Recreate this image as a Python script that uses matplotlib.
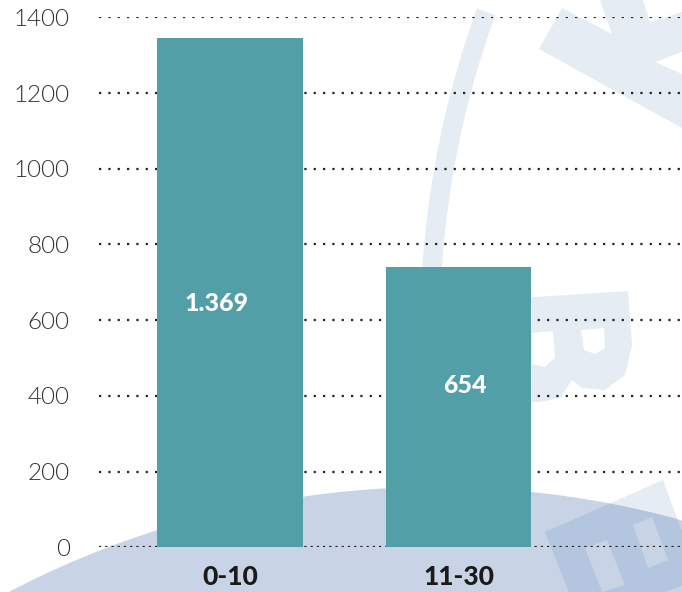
import numpy as np
import matplotlib.pyplot as plt
from matplotlib.patches import Circle, Arc, Polygon

# data
categories = ["0-10", "11-30"]
bar_heights = [1345, 741]
bar_labels = ["1.369", "654"]
label_y = [645, 428]
label_dx = [-0.06, 0.03]
y_ticks = [0, 200, 400, 600, 800, 1000, 1200, 1400]

W, H = 682, 592
LIGHT = "#e5ecf3"
MID = "#c8d4e6"
DARK = "#b3c5df"

fig = plt.figure(figsize=(W / 100, H / 100), dpi=100)

# background watermark, drawn in pixel coordinates
bg = fig.add_axes([0, 0, 1, 1], zorder=0)
bg.set_xlim(0, W)
bg.set_ylim(H, 0)
bg.axis("off")
bg.add_patch(Arc((1360, 330), 2 * 930, 2 * 930, theta1=145, theta2=200,
                 color=LIGHT, lw=14))
# "B"
bg.add_patch(Polygon([[520, 298], [628, 291], [632, 345], [625, 375], [605, 390],
                      [582, 388], [572, 380], [560, 398], [540, 402], [520, 402]],
                     closed=True, color=LIGHT, lw=0))
bg.add_patch(Polygon([[532, 333], [553, 331], [555, 357], [545, 367], [532, 364]],
                     closed=True, color="white", lw=0))
bg.add_patch(Polygon([[581, 330], [604, 328], [605, 348], [595, 354], [584, 350]],
                     closed=True, color="white", lw=0))
# "K" at top right
bg.add_patch(Polygon([[539, 49], [562, 8], [612, 34], [600, 0], [643, 0], [650, 22],
                      [682, 12], [682, 52], [655, 62], [682, 74], [682, 128]],
                     closed=True, color=LIGHT, lw=0))
# big disc at the bottom
disc = Circle((436, 1409), 922, color=MID, lw=0)
bg.add_patch(disc)
# "E" at bottom right
e_shape = [[545, 532], [663, 480], [700, 580], [580, 620]]
bg.add_patch(Polygon(e_shape, closed=True, color=LIGHT, lw=0, zorder=0.5))
e_dark = Polygon(e_shape, closed=True, color=DARK, lw=0)
bg.add_patch(e_dark)
e_dark.set_clip_path(disc)
for hole in ([[585, 548], [607, 540], [625, 585], [602, 592]],
             [[633, 525], [652, 517], [668, 560], [648, 568]]):
    h = Polygon(hole, closed=True, color=MID, lw=0)
    bg.add_patch(h)
    h.set_clip_path(disc)

ax = fig.add_axes([99 / W, (H - 547.2) / H, (W - 99) / W, (547.2 - 17.3) / H], zorder=1)
ax.patch.set_alpha(0)

x = np.arange(len(categories))
ax.bar(x, bar_heights, width=0.635, color="#529fa8", zorder=3)

for i in range(len(x)):
    ax.text(x[i] + label_dx[i], label_y[i], bar_labels[i], color="white",
            fontsize=18, fontweight=900, ha="center", va="center", zorder=4,
            family="Lato")

for t in y_ticks[1:]:
    ax.axhline(t, color="#222222", lw=1.6, ls=(0, (1, 3.2)), zorder=2)
ax.axhline(0, color="#222222", lw=1.6, ls=(0, (1, 1.8)), zorder=2)

ax.set_xlim(-0.573, 1.978)
ax.set_ylim(0, 1400)
ax.set_yticks(y_ticks)
ax.set_yticklabels([str(t) for t in y_ticks], fontsize=17.5, color="#333333",
                   family="Lato", fontweight=300)
ax.set_xticks(x)
ax.set_xticklabels(categories, fontsize=19, fontweight=900, color="#1a1a1a",
                   family="Lato")
ax.tick_params(axis="y", length=0, pad=21)
ax.tick_params(axis="x", length=0, pad=13)
for s in ax.spines.values():
    s.set_visible(False)

fig.savefig("out.png", dpi=100)
